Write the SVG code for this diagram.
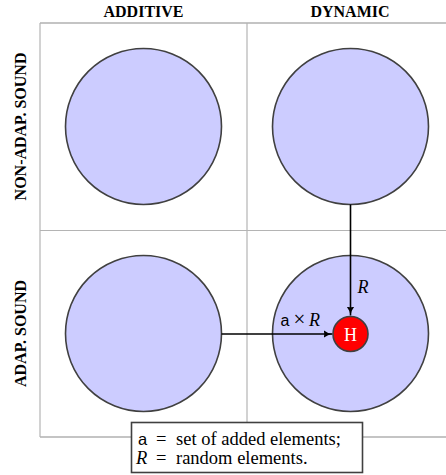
<svg xmlns="http://www.w3.org/2000/svg" width="446" height="475" viewBox="0 0 446 475">
<style>
.big{fill:#ccccff;stroke:#404040;stroke-width:1.6}
.grid{stroke:#b4b4b4;stroke-width:1.2;fill:none}
.gridd{stroke:#8a8a8a;stroke-width:1.2;fill:none}
.conn{stroke:#000;stroke-width:1.6;fill:none;marker-end:url(#ah)}
</style>
<defs>
<marker id="ah" markerWidth="10" markerHeight="10" viewBox="0 0 10 10" refX="9" refY="5" orient="auto" markerUnits="userSpaceOnUse">
<path d="M0,1 Q4,4.5 9,5 Q4,5.5 0,9 Q1.5,5 0,1 Z" fill="#000"/>
</marker>
</defs>
<g id="grid">
<line class="gridd" x1="40" y1="23" x2="446" y2="23"/>
<line class="gridd" x1="40" y1="437" x2="446" y2="437"/>
<line class="grid" x1="40" y1="23" x2="40" y2="437"/>
<line class="grid" x1="247" y1="23" x2="247" y2="437"/>
<line class="grid" x1="40" y1="230.5" x2="446" y2="230.5"/>
</g>
<g id="headers" font-family="Liberation Serif, Times New Roman, serif" font-weight="bold" font-size="16" text-anchor="middle" fill="#000">
<text x="143.5" y="16.5">ADDITIVE</text>
<text x="350" y="16.5">DYNAMIC</text>
<text transform="translate(26,126.5) rotate(-90)">NON-ADAP. SOUND</text>
<text transform="translate(26,333.5) rotate(-90)">ADAP. SOUND</text>
</g>
<g id="n-add-nonadap"><circle class="big" cx="143.5" cy="126.5" r="78"/></g>
<g id="n-dyn-nonadap"><circle class="big" cx="350.5" cy="126.5" r="78"/></g>
<g id="n-add-adap"><circle class="big" cx="143.5" cy="333.5" r="78"/></g>
<g id="n-dyn-adap"><circle class="big" cx="350.5" cy="333.5" r="78"/></g>
<g id="connectors">
<line class="conn" x1="350.5" y1="204.5" x2="350.5" y2="315.5"/>
<line class="conn" x1="221.5" y1="334" x2="332.5" y2="334"/>
<text x="357.5" y="293" font-family="Liberation Serif, Times New Roman, serif" font-style="italic" font-size="18">R</text>
<text y="325.5" font-family="Liberation Serif, Times New Roman, serif" font-size="18"><tspan x="280.5" font-family="Liberation Sans, sans-serif" font-size="16">a</tspan><tspan x="293.5" font-size="21">×</tspan><tspan x="309" font-style="italic">R</tspan></text>
</g>
<g id="n-H">
<circle cx="350.5" cy="334" r="17.5" fill="#ff0000" stroke="#404040" stroke-width="1.6"/>
<text x="350.5" y="340.5" font-family="Liberation Serif, Times New Roman, serif" font-size="18" fill="#fff" text-anchor="middle">H</text>
</g>
<g id="legend" font-family="Liberation Serif, Times New Roman, serif" font-size="18.5" fill="#000">
<rect x="131.5" y="422.5" width="231" height="50" fill="#fff" stroke="#404040" stroke-width="1.6"/>
<text y="445"><tspan x="138" font-family="Liberation Sans, sans-serif" font-size="16.5">a</tspan><tspan x="156">=</tspan><tspan x="176">set of added elements;</tspan></text>
<text y="464"><tspan x="136" font-style="italic">R</tspan><tspan x="156">=</tspan><tspan x="176">random elements.</tspan></text>
</g>
</svg>
